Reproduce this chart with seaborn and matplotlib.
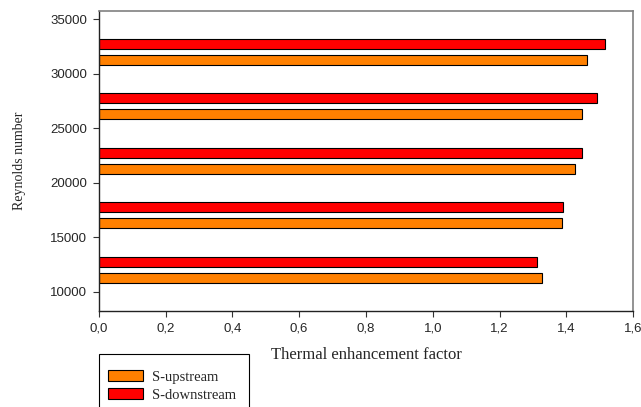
import numpy as np
import pandas as pd
import matplotlib
matplotlib.use("Agg")
import matplotlib.pyplot as plt
import seaborn as sns

reynolds = [12000, 17000, 22000, 27000, 32000]
upstream = [1.328, 1.388, 1.426, 1.446, 1.460]
downstream = [1.312, 1.391, 1.446, 1.490, 1.514]
cases = ["S-upstream", "S-downstream"]
colors = ["#FF8000", "#FF0000"]

x_ticks = [0.0, 0.2, 0.4, 0.6, 0.8, 1.0, 1.2, 1.4, 1.6]
x_labels = ["0,0", "0,2", "0,4", "0,6", "0,8", "1,0", "1,2", "1,4", "1,6"]
y_ticks = [10000, 15000, 20000, 25000, 30000, 35000]

df = pd.DataFrame({
    "re": reynolds * 2,
    "factor": upstream + downstream,
    "case": [cases[0]] * len(reynolds) + [cases[1]] * len(reynolds),
})

sns.set_style("white")
fig = plt.figure(figsize=(6.41, 4.07), dpi=100)
ax = fig.add_axes([0.154, 0.236, 0.834, 0.737])

sns.barplot(data=df, x="factor", y="re", hue="case", hue_order=cases,
            palette=colors, saturation=1, orient="h", native_scale=True, width=0.59,
            gap=0.375, edgecolor="black", linewidth=0.8, legend=False, ax=ax)

ax.set_xlim(0, 1.6)
ax.set_ylim(8220, 35740)
ax.set_xticks(x_ticks)
ax.set_xticklabels(x_labels, fontfamily="Liberation Sans", fontsize=9.5)
ax.set_yticks(y_ticks)
ax.set_yticklabels([str(v) for v in y_ticks], fontfamily="Liberation Sans", fontsize=9.5)
ax.tick_params(axis="both", direction="out", length=4.5, width=0.8,
               color="#333333", pad=4, bottom=True, left=True)

for side in ["left", "bottom"]:
    ax.spines[side].set_color("#222222")
    ax.spines[side].set_linewidth(1.0)
for side in ["top", "right"]:
    ax.spines[side].set_color("#808080")
    ax.spines[side].set_linewidth(1.2)

ax.set_xlabel("Thermal enhancement factor", fontfamily="Liberation Serif",
              fontsize=12, labelpad=9)
ax.set_ylabel("Reynolds number", fontfamily="Liberation Serif",
              fontsize=10, labelpad=17)

# legend box runs off the bottom of the figure, as in the original
box = plt.Rectangle((0.154, -0.1), 0.2345, 0.23, transform=fig.transFigure,
                    fill=False, edgecolor="black", linewidth=0.8)
fig.patches.append(box)

handles = [plt.Rectangle((0, 0), 1, 1, facecolor=c, edgecolor="black", linewidth=0.8)
           for c in colors]
fig.legend(handles, cases, loc="upper left", bbox_to_anchor=(0.1685, 0.09),
           frameon=False, prop={"family": "Liberation Serif", "size": 10.5},
           handlelength=2.4, handleheight=0.75, handletextpad=0.6,
           labelspacing=0.3, borderpad=0, borderaxespad=0)

fig.savefig("out.png", dpi=100)
